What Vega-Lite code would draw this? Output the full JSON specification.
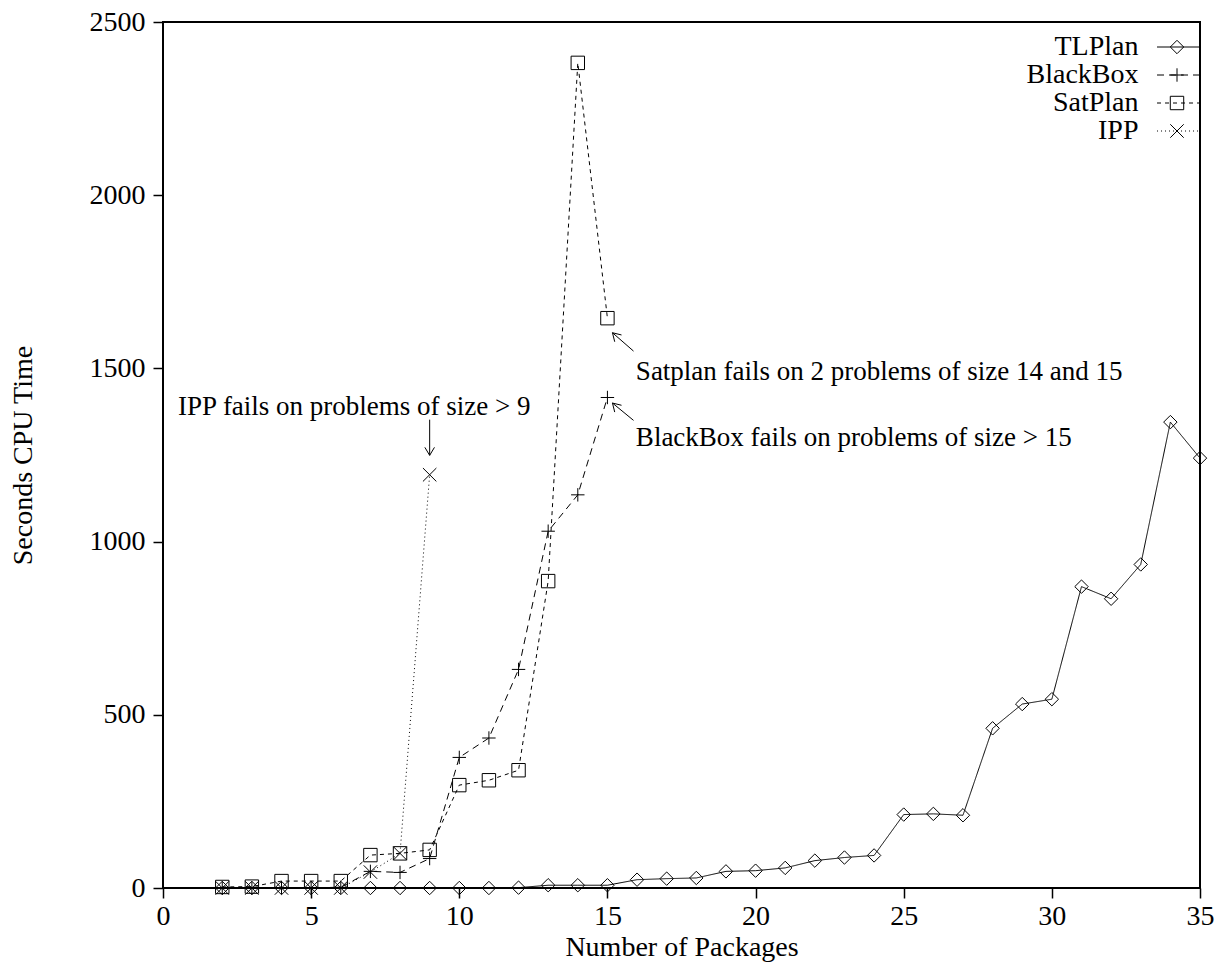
{
  "$schema": "https://vega.github.io/schema/vega-lite/v6.json",
  "width": 1037,
  "height": 866,
  "autosize": {"type": "none"},
  "padding": {"left": 163, "top": 22, "right": 19, "bottom": 82},
  "background": "white",
  "config": {
    "font": "Liberation Serif",
    "view": {"stroke": "black", "strokeWidth": 2},
    "axis": {
      "grid": false,
      "domain": false,
      "tickColor": "black",
      "tickSize": 10,
      "tickWidth": 1.5,
      "labelColor": "black",
      "labelFont": "Liberation Serif",
      "labelFontSize": 28,
      "labelFlush": false,
      "labelOverlap": false,
      "titleFont": "Liberation Serif",
      "titleFontSize": 28,
      "titleFontWeight": "normal",
      "titleColor": "black"
    }
  },
  "datasets": {
    "perf": [
      {"packages": 2, "planner": "TLPlan", "seconds": 0},
      {"packages": 3, "planner": "TLPlan", "seconds": 0},
      {"packages": 4, "planner": "TLPlan", "seconds": 0},
      {"packages": 5, "planner": "TLPlan", "seconds": 0},
      {"packages": 6, "planner": "TLPlan", "seconds": 0},
      {"packages": 7, "planner": "TLPlan", "seconds": 0},
      {"packages": 8, "planner": "TLPlan", "seconds": 0},
      {"packages": 9, "planner": "TLPlan", "seconds": 0},
      {"packages": 10, "planner": "TLPlan", "seconds": 0},
      {"packages": 11, "planner": "TLPlan", "seconds": 0},
      {"packages": 12, "planner": "TLPlan", "seconds": 1},
      {"packages": 13, "planner": "TLPlan", "seconds": 8},
      {"packages": 14, "planner": "TLPlan", "seconds": 8},
      {"packages": 15, "planner": "TLPlan", "seconds": 8},
      {"packages": 16, "planner": "TLPlan", "seconds": 24},
      {"packages": 17, "planner": "TLPlan", "seconds": 27},
      {"packages": 18, "planner": "TLPlan", "seconds": 29},
      {"packages": 19, "planner": "TLPlan", "seconds": 48},
      {"packages": 20, "planner": "TLPlan", "seconds": 50},
      {"packages": 21, "planner": "TLPlan", "seconds": 58},
      {"packages": 22, "planner": "TLPlan", "seconds": 79},
      {"packages": 23, "planner": "TLPlan", "seconds": 88},
      {"packages": 24, "planner": "TLPlan", "seconds": 94},
      {"packages": 25, "planner": "TLPlan", "seconds": 212},
      {"packages": 26, "planner": "TLPlan", "seconds": 214},
      {"packages": 27, "planner": "TLPlan", "seconds": 210},
      {"packages": 28, "planner": "TLPlan", "seconds": 461},
      {"packages": 29, "planner": "TLPlan", "seconds": 531},
      {"packages": 30, "planner": "TLPlan", "seconds": 545},
      {"packages": 31, "planner": "TLPlan", "seconds": 870},
      {"packages": 32, "planner": "TLPlan", "seconds": 835},
      {"packages": 33, "planner": "TLPlan", "seconds": 934},
      {"packages": 34, "planner": "TLPlan", "seconds": 1345},
      {"packages": 35, "planner": "TLPlan", "seconds": 1241},
      {"packages": 2, "planner": "BlackBox", "seconds": 0},
      {"packages": 3, "planner": "BlackBox", "seconds": 0},
      {"packages": 4, "planner": "BlackBox", "seconds": 1},
      {"packages": 5, "planner": "BlackBox", "seconds": 1},
      {"packages": 6, "planner": "BlackBox", "seconds": 2},
      {"packages": 7, "planner": "BlackBox", "seconds": 48},
      {"packages": 8, "planner": "BlackBox", "seconds": 45},
      {"packages": 9, "planner": "BlackBox", "seconds": 85},
      {"packages": 10, "planner": "BlackBox", "seconds": 377},
      {"packages": 11, "planner": "BlackBox", "seconds": 433},
      {"packages": 12, "planner": "BlackBox", "seconds": 631},
      {"packages": 13, "planner": "BlackBox", "seconds": 1030},
      {"packages": 14, "planner": "BlackBox", "seconds": 1135},
      {"packages": 15, "planner": "BlackBox", "seconds": 1416},
      {"packages": 2, "planner": "SatPlan", "seconds": 3},
      {"packages": 3, "planner": "SatPlan", "seconds": 4},
      {"packages": 4, "planner": "SatPlan", "seconds": 20},
      {"packages": 5, "planner": "SatPlan", "seconds": 20},
      {"packages": 6, "planner": "SatPlan", "seconds": 20},
      {"packages": 7, "planner": "SatPlan", "seconds": 95},
      {"packages": 8, "planner": "SatPlan", "seconds": 100},
      {"packages": 9, "planner": "SatPlan", "seconds": 110},
      {"packages": 10, "planner": "SatPlan", "seconds": 297},
      {"packages": 11, "planner": "SatPlan", "seconds": 311},
      {"packages": 12, "planner": "SatPlan", "seconds": 340},
      {"packages": 13, "planner": "SatPlan", "seconds": 886},
      {"packages": 14, "planner": "SatPlan", "seconds": 2382},
      {"packages": 15, "planner": "SatPlan", "seconds": 1645},
      {"packages": 2, "planner": "IPP", "seconds": 0},
      {"packages": 3, "planner": "IPP", "seconds": 0},
      {"packages": 4, "planner": "IPP", "seconds": 0},
      {"packages": 5, "planner": "IPP", "seconds": 0},
      {"packages": 6, "planner": "IPP", "seconds": 0},
      {"packages": 7, "planner": "IPP", "seconds": 46},
      {"packages": 8, "planner": "IPP", "seconds": 100},
      {"packages": 9, "planner": "IPP", "seconds": 1193}
    ],
    "notes": [
      {"packages": 0.51, "seconds": 1390, "note": "IPP fails on problems of size > 9"},
      {"packages": 15.96, "seconds": 1490, "note": "Satplan fails on 2 problems of size 14 and 15"},
      {"packages": 15.96, "seconds": 1298, "note": "BlackBox fails on problems of size > 15"}
    ],
    "arrows": [
      {"tail_packages": 9, "tail_seconds": 1352, "packages": 9, "seconds": 1249, "dir": "down"},
      {"tail_packages": 15.88, "tail_seconds": 1550, "packages": 15.17, "seconds": 1603, "dir": "up-left"},
      {"tail_packages": 15.88, "tail_seconds": 1350, "packages": 15.17, "seconds": 1400, "dir": "up-left"}
    ]
  },
  "layer": [
    {
      "data": {"name": "perf"},
      "mark": {"type": "line", "color": "black", "strokeWidth": 1},
      "encoding": {
        "x": {
          "field": "packages",
          "type": "quantitative",
          "scale": {"domain": [0, 35], "nice": false, "zero": false},
          "axis": {
            "title": "Number of Packages",
            "values": [0, 5, 10, 15, 20, 25, 30, 35],
            "labelPadding": 4,
            "titleY": 59,
            "titleBaseline": "middle"
          }
        },
        "y": {
          "field": "seconds",
          "type": "quantitative",
          "scale": {"domain": [0, 2500], "nice": false},
          "axis": {
            "title": "Seconds CPU Time",
            "values": [0, 500, 1000, 1500, 2000, 2500],
            "format": "d",
            "labelPadding": 8,
            "titleX": -140,
            "titleY": 433,
            "titleBaseline": "middle"
          }
        },
        "strokeDash": {
          "field": "planner",
          "type": "nominal",
          "sort": ["TLPlan", "BlackBox", "SatPlan", "IPP"],
          "scale": {"range": [[1, 0], [7, 5], [4, 4], [1, 3]]},
          "legend": {
            "orient": "none",
            "legendX": 1001.5,
            "legendY": 11,
            "title": null,
            "padding": 0,
            "rowPadding": -4,
            "symbolType": "M-3,0H3",
            "symbolSize": 205,
            "symbolStrokeWidth": 1,
            "symbolStrokeColor": "black",
            "labelAlign": "right",
            "labelOffset": -54,
            "labelFont": "Liberation Serif",
            "labelFontSize": 28,
            "labelColor": "black"
          }
        }
      }
    },
    {
      "data": {"name": "perf"},
      "mark": {"type": "point", "filled": false, "color": "black", "strokeWidth": 1, "size": 180, "opacity": 1},
      "encoding": {
        "x": {"field": "packages", "type": "quantitative"},
        "y": {"field": "seconds", "type": "quantitative"},
        "shape": {
          "field": "planner",
          "type": "nominal",
          "scale": {
            "domain": ["TLPlan", "BlackBox", "SatPlan", "IPP"],
            "range": ["diamond", "M-1,0H1M0,-1V1", "square", "M-1,-1L1,1M-1,1L1,-1"]
          },
          "legend": {
            "orient": "none",
            "legendX": 1000,
            "legendY": 11,
            "title": null,
            "padding": 0,
            "rowPadding": -4,
            "symbolSize": 180,
            "symbolStrokeWidth": 1,
            "symbolStrokeColor": "black",
            "labelExpr": "' '",
            "labelOpacity": 0,
            "labelFont": "Liberation Serif",
            "labelFontSize": 28
          }
        }
      }
    },
    {
      "data": {"name": "notes"},
      "mark": {"type": "text", "align": "left", "baseline": "middle", "font": "Liberation Serif", "fontSize": 27, "color": "black"},
      "encoding": {
        "x": {"field": "packages", "type": "quantitative"},
        "y": {"field": "seconds", "type": "quantitative"},
        "text": {"field": "note", "type": "nominal"}
      }
    },
    {
      "data": {"name": "arrows"},
      "mark": {"type": "rule", "color": "black", "strokeWidth": 1},
      "encoding": {
        "x": {"field": "tail_packages", "type": "quantitative"},
        "y": {"field": "tail_seconds", "type": "quantitative"},
        "x2": {"field": "packages"},
        "y2": {"field": "seconds"}
      }
    },
    {
      "data": {"name": "arrows"},
      "transform": [{"filter": "datum.dir == 'down'"}],
      "mark": {"type": "point", "shape": "M-0.6,-1L0,0L0.6,-1", "size": 256, "filled": false, "color": "black", "strokeWidth": 1, "opacity": 1},
      "encoding": {
        "x": {"field": "packages", "type": "quantitative"},
        "y": {"field": "seconds", "type": "quantitative"}
      }
    },
    {
      "data": {"name": "arrows"},
      "transform": [{"filter": "datum.dir == 'up-left'"}],
      "mark": {"type": "point", "shape": "M0.28,1.13L0,0L1.13,0.28", "size": 256, "filled": false, "color": "black", "strokeWidth": 1, "opacity": 1},
      "encoding": {
        "x": {"field": "packages", "type": "quantitative"},
        "y": {"field": "seconds", "type": "quantitative"}
      }
    }
  ]
}
